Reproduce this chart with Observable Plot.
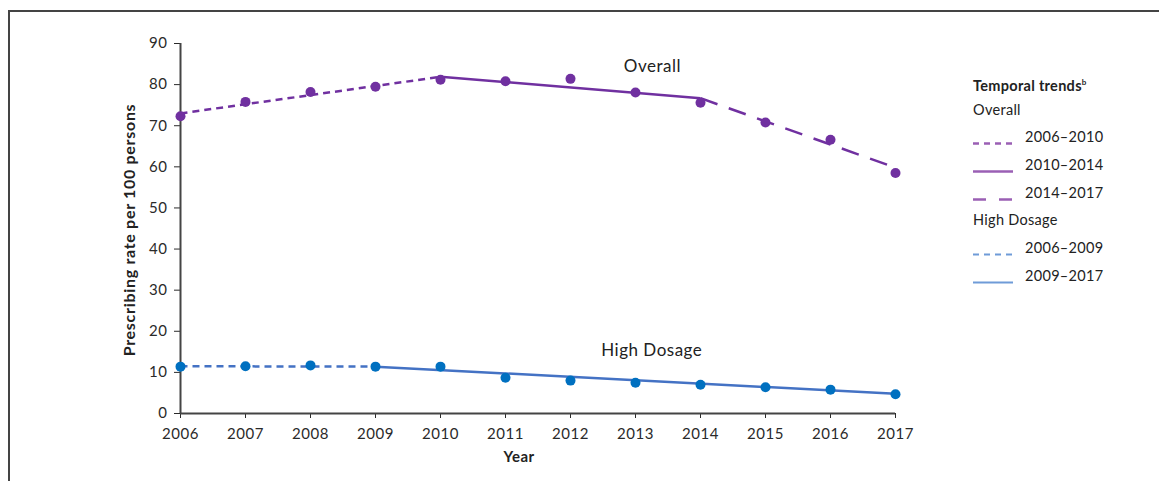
<!DOCTYPE html>
<html>
<head>
<meta charset="utf-8">
<script src="https://cdn.jsdelivr.net/npm/d3@7"></script>
<script src="https://cdn.jsdelivr.net/npm/@observablehq/plot@0.6"></script>
<style>
  html, body { margin: 0; padding: 0; background: #fff; }
  body { width: 1159px; height: 481px; position: relative; overflow: hidden; font-family: Lato, "Open Sans", sans-serif; }
  #frame { position: absolute; left: 8px; top: 10px; width: 1200px; height: 500px; border-top: 2px solid #444; border-left: 2px solid #444; }
  #chart { position: absolute; left: 0; top: 0; }
  #legend { position: absolute; left: 973px; top: 72px; font-size: 14.5px; color: #222; white-space: nowrap; letter-spacing: 0.3px; }
  #legend > div { height: 27.7px; line-height: 20px; position: relative; }
  #legend .title { font-weight: bold; }
  #legend .row svg { position: absolute; left: 0; top: 0; }
  #legend .row span { position: absolute; left: 52px; top: 0; }
</style>
</head>
<body>
<div id="frame"></div>
<div id="chart"></div>
<div id="legend"></div>
<script>
const years = [2006, 2007, 2008, 2009, 2010, 2011, 2012, 2013, 2014, 2015, 2016, 2017];
const overallRate = [72.3, 75.8, 78.2, 79.5, 81.2, 80.8, 81.4, 78.1, 75.6, 70.8, 66.6, 58.5];
const highDosageRate = [11.4, 11.5, 11.7, 11.4, 11.4, 8.7, 8.0, 7.5, 7.0, 6.4, 5.8, 4.7];

// Joinpoint trend lines (knots)
const overallTrendYears = [2006, 2010, 2014, 2017];
const overallTrendValues = [73.0, 81.9, 76.7, 59.8];
const highTrendYears = [2006, 2009, 2017];
const highTrendValues = [11.5, 11.4, 4.8];

const overallSegmentLabels = ["2006–2010", "2010–2014", "2014–2017"];
const highSegmentLabels = ["2006–2009", "2009–2017"];

const purple = "#7030a0";
const bluePoint = "#0070c0";
const blueLine = "#4472c4";

const overallDash = ["7,5", null, "18,12"];
const highDash = ["7,5", null];

function segments(ys, vs) {
  const out = [];
  for (let i = 0; i < ys.length - 1; i++) {
    out.push({i, x1: ys[i], y1: vs[i], x2: ys[i + 1], y2: vs[i + 1]});
  }
  return out;
}
const overallSegs = segments(overallTrendYears, overallTrendValues);
const highSegs = segments(highTrendYears, highTrendValues);

const overallPts = years.map((y, i) => ({year: y, value: overallRate[i]}));
const highPts = years.map((y, i) => ({year: y, value: highDosageRate[i]}));

const segMarks = (segs, color, dashes) => segs.map(s => Plot.link([s], {
  x1: "x1", y1: "y1", x2: "x2", y2: "y2",
  stroke: color, strokeWidth: 2.5,
  strokeDasharray: dashes[s.i] || undefined
}));

const plot = Plot.plot({
  width: 960,
  height: 481,
  marginLeft: 180,
  marginRight: 65,
  marginTop: 43,
  marginBottom: 68,
  style: {fontFamily: "Lato, 'Open Sans', sans-serif", fontSize: "15px", color: "#2a2a2a", background: "transparent", letterSpacing: "0.5px"},
  x: {domain: [2006, 2017]},
  y: {domain: [0, 90]},
  marks: [
    Plot.axisX({ticks: years, tickFormat: d => String(d), tickSize: 5, tickPadding: 10, label: null, fontSize: 15}),
    Plot.axisY({ticks: d3.range(0, 91, 10), tickSize: 6, tickPadding: 7, label: null, fontSize: 15}),
    Plot.ruleY([0], {stroke: "#444", strokeWidth: 2}),
    Plot.ruleX([2006], {stroke: "#444", strokeWidth: 2}),
    ...segMarks(overallSegs, purple, overallDash),
    ...segMarks(highSegs, blueLine, highDash),
    Plot.dot(overallPts, {x: "year", y: "value", r: 5, fill: purple}),
    Plot.dot(highPts, {x: "year", y: "value", r: 5, fill: bluePoint}),
    Plot.text(["Overall"], {x: 2013.26, y: 84.4, text: d => d, fontSize: 17, fill: "#222"}),
    Plot.text(["High Dosage"], {x: 2013.25, y: 15.4, text: d => d, fontSize: 17, fill: "#222"})
  ]
});
document.getElementById("chart").appendChild(plot);

// Axis titles as SVG text inside the plot
const svg = d3.select(plot);
svg.append("text")
  .attr("transform", "translate(131,230) rotate(-90)")
  .attr("text-anchor", "middle")
  .attr("dominant-baseline", "middle")
  .attr("font-weight", "bold")
  .attr("font-size", 16)
  .attr("letter-spacing", "0.7px")
  .attr("fill", "#222")
  .text("Prescribing rate per 100 persons");
svg.append("text")
  .attr("x", 519).attr("y", 458)
  .attr("text-anchor", "middle")
  .attr("dominant-baseline", "middle")
  .attr("font-weight", "bold")
  .attr("font-size", 15)
  .attr("fill", "#222")
  .text("Year");

// Legend
const legend = document.getElementById("legend");
const lightPurple = "#9a5fb4";
const lightBlue = "#6f9bd8";
let html = `<div class="title">Temporal trends<sup style="font-size:8px">b</sup></div>`;
html += `<div class="group">Overall</div>`;
overallSegmentLabels.forEach((lab, i) => {
  html += `<div class="row"><svg width="44" height="22"><line x1="0" x2="40" y1="16.5" y2="16.5" stroke="${lightPurple}" stroke-width="2.5" ${overallDash[i] ? `stroke-dasharray="${i === 2 ? "13,13" : "6,5"}"` : ""}/></svg><span>${lab}</span></div>`;
});
html += `<div class="group">High Dosage</div>`;
highSegmentLabels.forEach((lab, i) => {
  html += `<div class="row"><svg width="44" height="22"><line x1="0" x2="40" y1="16.5" y2="16.5" stroke="${lightBlue}" stroke-width="2" ${highDash[i] ? `stroke-dasharray="6,5"` : ""}/></svg><span>${lab}</span></div>`;
});
legend.innerHTML = html;
</script>
</body>
</html>
